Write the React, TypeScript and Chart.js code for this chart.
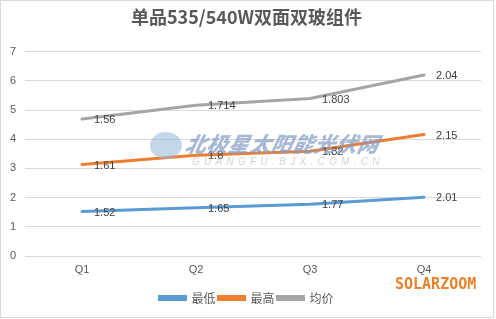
import React, { useEffect, useRef } from "react";
import { Chart, registerables } from "chart.js";

Chart.register(...registerables);

const TITLE = "单品535/540W双面双玻组件";
const CATEGORIES = ["Q1", "Q2", "Q3", "Q4"];
const SERIES_NAMES = ["最低", "最高", "均价"];
const LOW = [1.52, 1.65, 1.77, 2.01];
const HIGH = [1.61, 1.8, 1.82, 2.15];
const AVG = [1.56, 1.714, 1.803, 2.04];
const COLORS = ["#5B9BD5", "#ED7D31", "#A5A5A5"];
const Y_MIN = 0;
const Y_MAX = 7;
const Y_STEP = 1;

const dataLabelPlugin = {
  id: "dataLabels",
  afterDatasetsDraw(chart: any) {
    const ctx = chart.ctx;
    ctx.save();
    ctx.font = "11px 'Liberation Sans', Arial, sans-serif";
    ctx.fillStyle = "#404040";
    ctx.textAlign = "left";
    ctx.textBaseline = "middle";
    chart.data.datasets.forEach((ds: any, i: number) => {
      const meta = chart.getDatasetMeta(i);
      meta.data.forEach((pt: any, j: number) => {
        ctx.fillText(String(ds.data[j]), pt.x + 12, pt.y + 1);
      });
    });
    ctx.restore();
  },
};

export default function App() {
  const ref = useRef<HTMLCanvasElement | null>(null);

  useEffect(() => {
    if (!ref.current) return;
    const seriesValues = [LOW, HIGH, AVG];
    const chart = new Chart(ref.current, {
      type: "line",
      data: {
        labels: CATEGORIES,
        datasets: SERIES_NAMES.map((name, i) => ({
          label: name,
          data: seriesValues[i],
          borderColor: COLORS[i],
          backgroundColor: COLORS[i],
          borderWidth: 3,
          pointRadius: 0,
          tension: 0,
          fill: false,
          borderCapStyle: "round" as const,
          yAxisID: "y",
        })),
      },
      options: {
        animation: false,
        responsive: true,
        maintainAspectRatio: false,
        layout: { padding: { left: 0, right: 3, top: 0, bottom: 5 } },
        plugins: {
          title: {
            display: true,
            text: TITLE,
            color: "#595959",
            font: { family: "'Noto Sans CJK SC', sans-serif", size: 18, weight: "bold" },
            padding: { top: 6, bottom: 24 },
          },
          legend: {
            display: true,
            position: "bottom",
            labels: {
              boxWidth: 26,
              boxHeight: 3,
              padding: 3,
              color: "#595959",
              font: { family: "'Noto Sans CJK SC', sans-serif", size: 12 },
            },
          },
          tooltip: { enabled: false },
        },
        scales: {
          x: {
            offset: true,
            grid: { display: false, drawTicks: false },
            border: { display: false },
            ticks: {
              color: "#595959",
              padding: 7,
              font: { family: "'Liberation Sans', Arial, sans-serif", size: 11 },
            },
            afterFit: (s: any) => {
              s.height = 33;
            },
          },
          y: {
            stacked: true,
            min: Y_MIN,
            max: Y_MAX,
            grid: { color: "#D9D9D9", drawTicks: false },
            border: { display: false },
            ticks: {
              stepSize: Y_STEP,
              color: "#595959",
              padding: 9,
              font: { family: "'Liberation Sans', Arial, sans-serif", size: 11 },
            },
            afterFit: (s: any) => {
              s.width = 25;
            },
          },
          yRight: {
            position: "right",
            min: Y_MIN,
            max: Y_MAX,
            grid: { display: false, drawTicks: false },
            border: { display: false },
            ticks: { display: false },
            afterFit: (s: any) => {
              s.width = 12;
            },
          },
        },
      },
      plugins: [dataLabelPlugin],
    });
    return () => chart.destroy();
  }, []);

  return (
    <div style={{ position: "absolute", left: 0, top: 0, width: 496, height: 319, background: "#fff", overflow: "hidden" }}>
      <canvas ref={ref} style={{ position: "absolute", left: 0, top: 0 }} />
      <div
        style={{
          position: "absolute",
          left: 150,
          top: 132,
          width: 32,
          height: 27,
          borderRadius: "50%",
          background: "rgba(150,180,215,0.55)",
          pointerEvents: "none",
        }}
      />
      <div
        style={{
          position: "absolute",
          left: 186,
          top: 130,
          fontFamily: "'Noto Sans CJK SC', sans-serif",
          fontWeight: 900,
          fontStyle: "italic",
          fontSize: 21,
          lineHeight: "26px",
          color: "rgba(130,155,195,0.7)",
          letterSpacing: 0.5,
          whiteSpace: "nowrap",
          transform: "skewX(-12deg)",
          pointerEvents: "none",
        }}
      >
        北极星太阳能光伏网
      </div>
      <div
        style={{
          position: "absolute",
          left: 192,
          top: 156,
          fontFamily: "'Liberation Sans', Arial, sans-serif",
          fontSize: 10,
          lineHeight: "12px",
          color: "rgba(180,180,180,0.6)",
          letterSpacing: 4.3,
          fontStyle: "italic",
          whiteSpace: "nowrap",
          pointerEvents: "none",
        }}
      >
        GUANGFU.BJX.COM.CN
      </div>
      <div
        style={{
          position: "absolute",
          left: 395,
          top: 275,
          fontFamily: "'DejaVu Sans Mono', monospace",
          fontWeight: "bold",
          fontSize: 15,
          lineHeight: "18px",
          color: "#E8822A",
          whiteSpace: "nowrap",
          pointerEvents: "none",
        }}
      >
        SOLARZOOM
      </div>
      <div
        style={{
          position: "absolute",
          left: 0,
          top: 0,
          width: 494,
          height: 318,
          boxSizing: "border-box",
          border: "1px solid #D9D9D9",
          pointerEvents: "none",
        }}
      />
    </div>
  );
}
